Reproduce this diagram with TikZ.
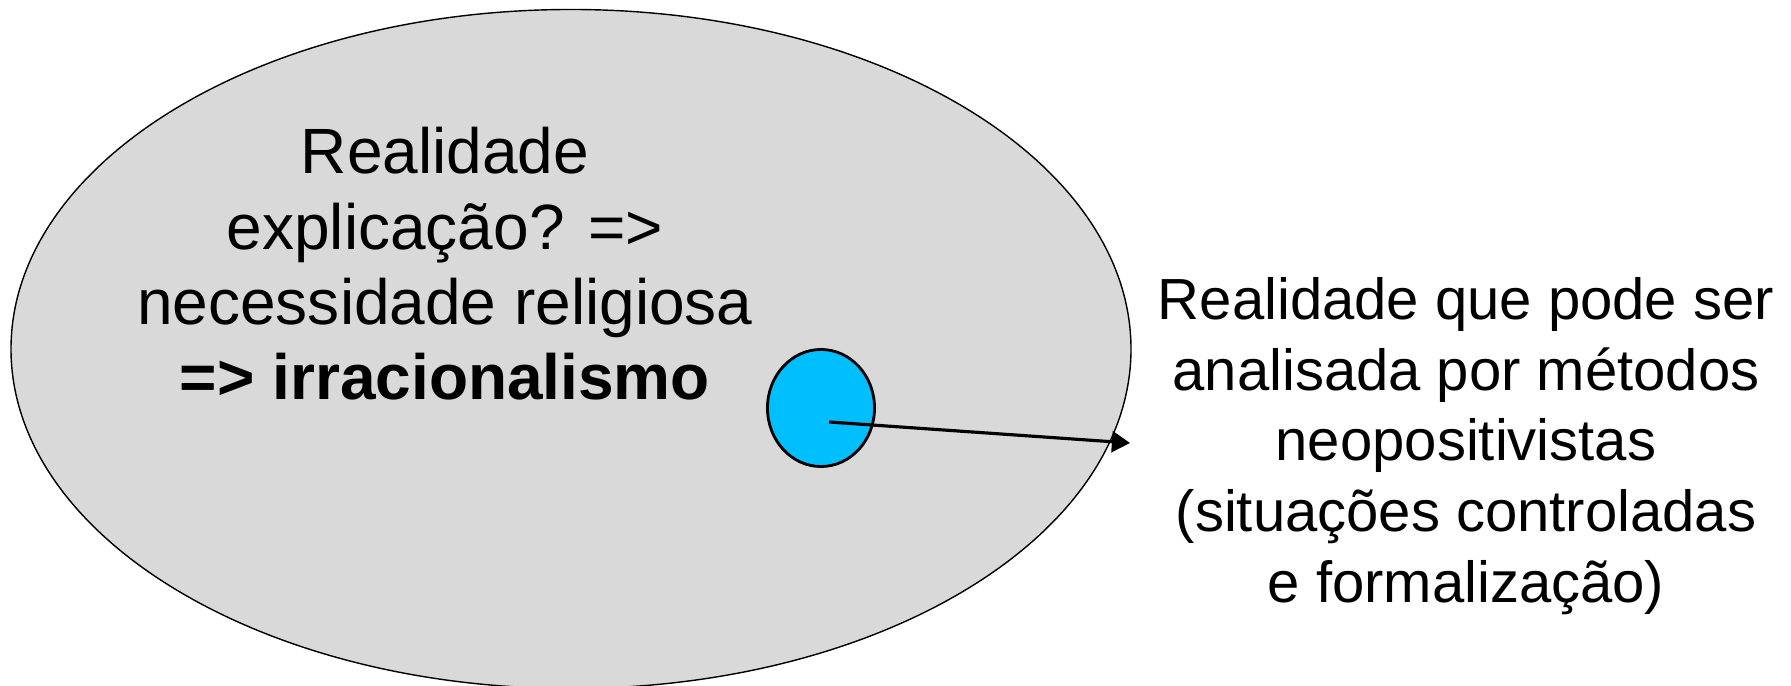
\documentclass[tikz,border=0pt]{standalone}
\usepackage{fontspec}
\setmainfont{Liberation Sans}
\usetikzlibrary{arrows.meta}
\usetikzlibrary{shapes.geometric}
\definecolor{realgray}{HTML}{D9D9D9}
\definecolor{spotblue}{HTML}{00BFFF}

\begin{document}
\begin{tikzpicture}[x=0.01cm, y=-0.01cm, >=Triangle,
    bigtext/.style={align=center, inner sep=0pt, font=\fontsize{18.2pt}{21.4pt}\selectfont},
    sidetext/.style={align=center, inner sep=0pt, font=\fontsize{16.5pt}{20.1pt}\selectfont},
    spot/.style={ellipse, draw, line width=0.8pt, fill=spotblue, inner sep=0pt, minimum width=1.07cm, minimum height=1.17cm}]
  \useasboundingbox (0,0) rectangle (1791,686);

  % realidade (elipse grande)
  \draw[fill=realgray, line width=0.4pt] (571,349) ellipse (560 and 339.5);

  % textos
  \node[bigtext] (realidade) at (445,264) {Realidade\\ explicação? =>\\ necessidade religiosa\\ \textbf{=> irracionalismo}};
  \node[sidetext] (analisavel) at (1466,446) {Realidade que pode ser\\ analisada por métodos\\ neopositivistas\\ (situações controladas\\ e formalização)};

  % parte analisavel e seta
  \node[spot] (parte) at (821,408) {};
  \coordinate (ponta) at (1130,443);
  \draw[->, line width=0.9pt] ([shift={(8,14)}]parte.center) -- (ponta);
\end{tikzpicture}
\end{document}
